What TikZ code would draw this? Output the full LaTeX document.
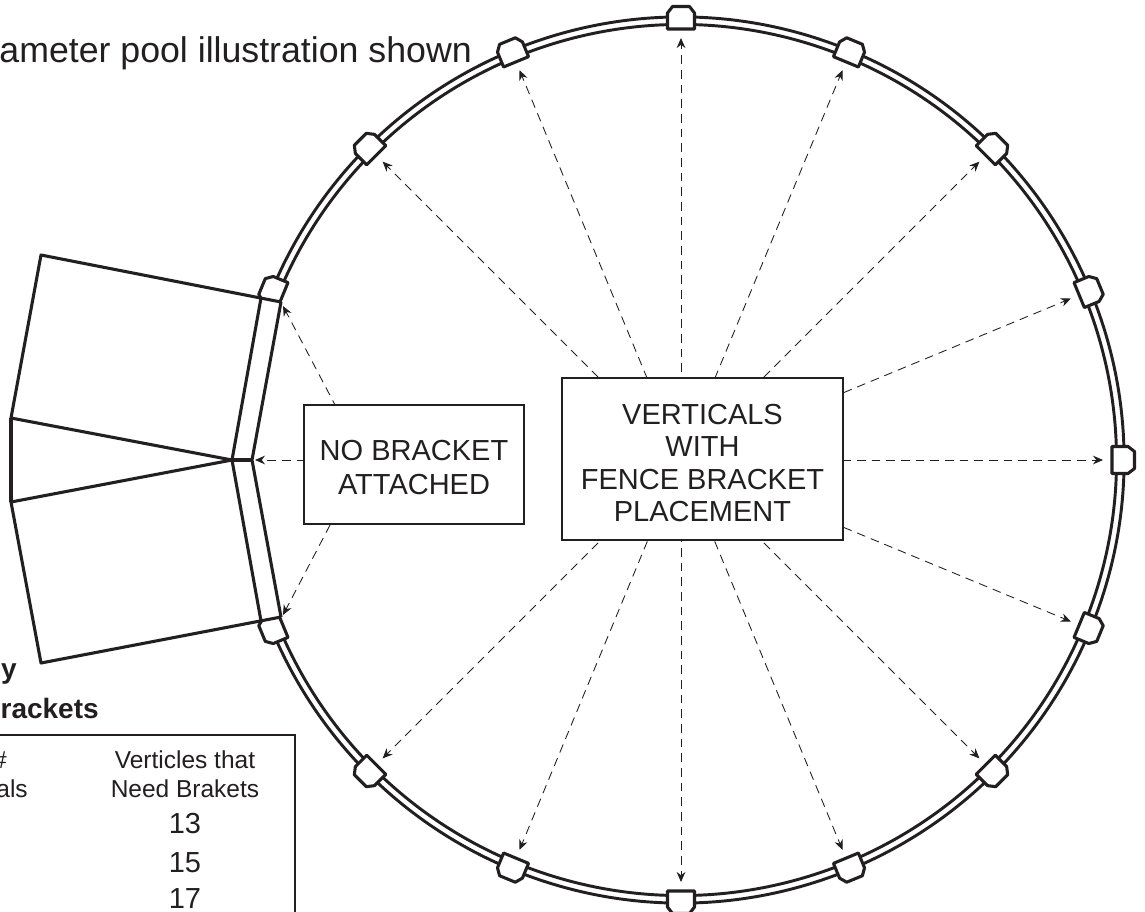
\documentclass[tikz,border=0pt]{standalone}
\usepackage{fontspec}
\setmainfont{Liberation Sans}
\usetikzlibrary{arrows.meta}
\definecolor{ink}{RGB}{35,31,32}
\newcommand{\fsz}[1]{\pgfmathparse{#1*0.75}\fontsize{\pgfmathresult pt}{\pgfmathresult pt}\selectfont}
\tikzset{
  heavy/.style={draw=ink,line width=2.3pt,line join=round},
  bracketshape/.style={draw=ink,fill=white,line width=2.3pt,line join=round},
  ringline/.style={draw=ink,line width=2.2pt},
  boxnode/.style={draw=ink,fill=white,line width=1.8pt,inner sep=0pt,align=center,text=ink},
  plain/.style={text=ink,inner sep=0pt},
  ray/.style={draw=ink,line width=0.65pt,dash pattern=on 6.5pt off 4.5pt,-{Stealth[length=7.5pt,width=6.5pt]}}
}
\begin{document}
\begin{tikzpicture}[x=0.75pt,y=-0.75pt]
\clip[use as bounding box] (0,0) rectangle (1145,911);
\fill[white] (0,0) rectangle (1145,911);
\coordinate (c) at (681,460);
\coordinate (g) at (364,460);

% rays from the centre
\foreach \a [count=\i] in {0,22.5,...,135,-22.5,-45,...,-135}{
  \begin{scope}[shift={(c)},y=0.75pt]
    \coordinate (t\i) at (\a:422);
    \draw[ray] (0,0) -- (t\i);
  \end{scope}
}
% rays of the gate
\coordinate (ga) at (283,306);
\coordinate (gb) at (283,615);
\coordinate (gc) at (255,460);
\draw[ray] (g) -- (ga);
\draw[ray] (g) -- (gb);
\draw[ray] (g) -- (gc);

% ring
\begin{scope}[shift={(c)},y=0.75pt]
  \draw[ringline] (157.5:443) arc[start angle=157.5,end angle=-157.5,radius=332.25pt];
  \draw[ringline] (157.5:435.5) arc[start angle=157.5,end angle=-157.5,radius=326.6pt];
  \foreach \a in {0,22.5,...,157.5,-22.5,-45,...,-157.5}{
    \draw[bracketshape,rotate=\a] (431,-13.5) -- (447,-13.5) -- (453.5,-8.5) -- (453.5,8.5) -- (447,13.5) -- (431,13.5) -- cycle;
  }
\end{scope}

% gate structure
\coordinate (p1) at (41,255);
\coordinate (p2) at (11,418);
\coordinate (p3) at (11,502);
\coordinate (p4) at (41,663);
\coordinate (q1) at (281,302);
\coordinate (q2) at (232,460);
\coordinate (q3) at (281,617);
\coordinate (s1) at (261,298);
\coordinate (s2) at (252,460);
\coordinate (s3) at (261,621);
\fill[white] (s1) -- (q1) -- (s2) -- (q3) -- (s3) -- (q2) -- cycle;
\draw[heavy] (q1) -- (p1) -- (p2) -- (q2) -- (p3) -- (p4) -- (q3);
\draw[heavy] (p2) -- (p3);
\draw[heavy] (s1) -- (q2) -- (s3);
\draw[heavy] (q1) -- (s2) -- (q3);
\draw[draw=ink,line width=2.8pt] (q2) -- (s2);

% boxes
\node[boxnode,minimum width=220*0.75pt,minimum height=119*0.75pt] (nb) at (414,464.5)
  {\fsz{29}\rule{0pt}{19.6pt}NO BRACKET\\[8.5pt]\fsz{29}ATTACHED};
\node[boxnode,minimum width=281*0.75pt,minimum height=162*0.75pt] (vb) at (702.5,459)
  {\fsz{29}\rule{0pt}{21.6pt}VERTICALS\\[8pt]\fsz{29}WITH\\[8pt]\fsz{29}FENCE BRACKET\\[8pt]\fsz{29}PLACEMENT};

% texts
\node[plain,anchor=base east] (title) at (472,62) {\fsz{35.7}ameter pool illustration shown};
\node[plain,anchor=base east,font=\bfseries] (h1) at (17,678) {\fsz{28}y};
\node[plain,anchor=base east,font=\bfseries] (h2) at (99,718) {\fsz{28}rackets};

% table
\draw[draw=ink,line width=1.8pt] (-10,735) -- (295,735) -- (295,930);
\node[plain,anchor=base] (c1a) at (0,768) {\fsz{24.5}\#};
\node[plain,anchor=base east] (c1b) at (28,797) {\fsz{24.5}als};
\node[plain,anchor=base] (c2a) at (185,768) {\fsz{24.5}Verticles that};
\node[plain,anchor=base] (c2b) at (185,797) {\fsz{24.5}Need Brakets};
\node[plain,anchor=base] (n1) at (185,833) {\fsz{29}13};
\node[plain,anchor=base] (n2) at (185,872) {\fsz{29}15};
\node[plain,anchor=base] (n3) at (185,908) {\fsz{29}17};
\end{tikzpicture}
\end{document}
